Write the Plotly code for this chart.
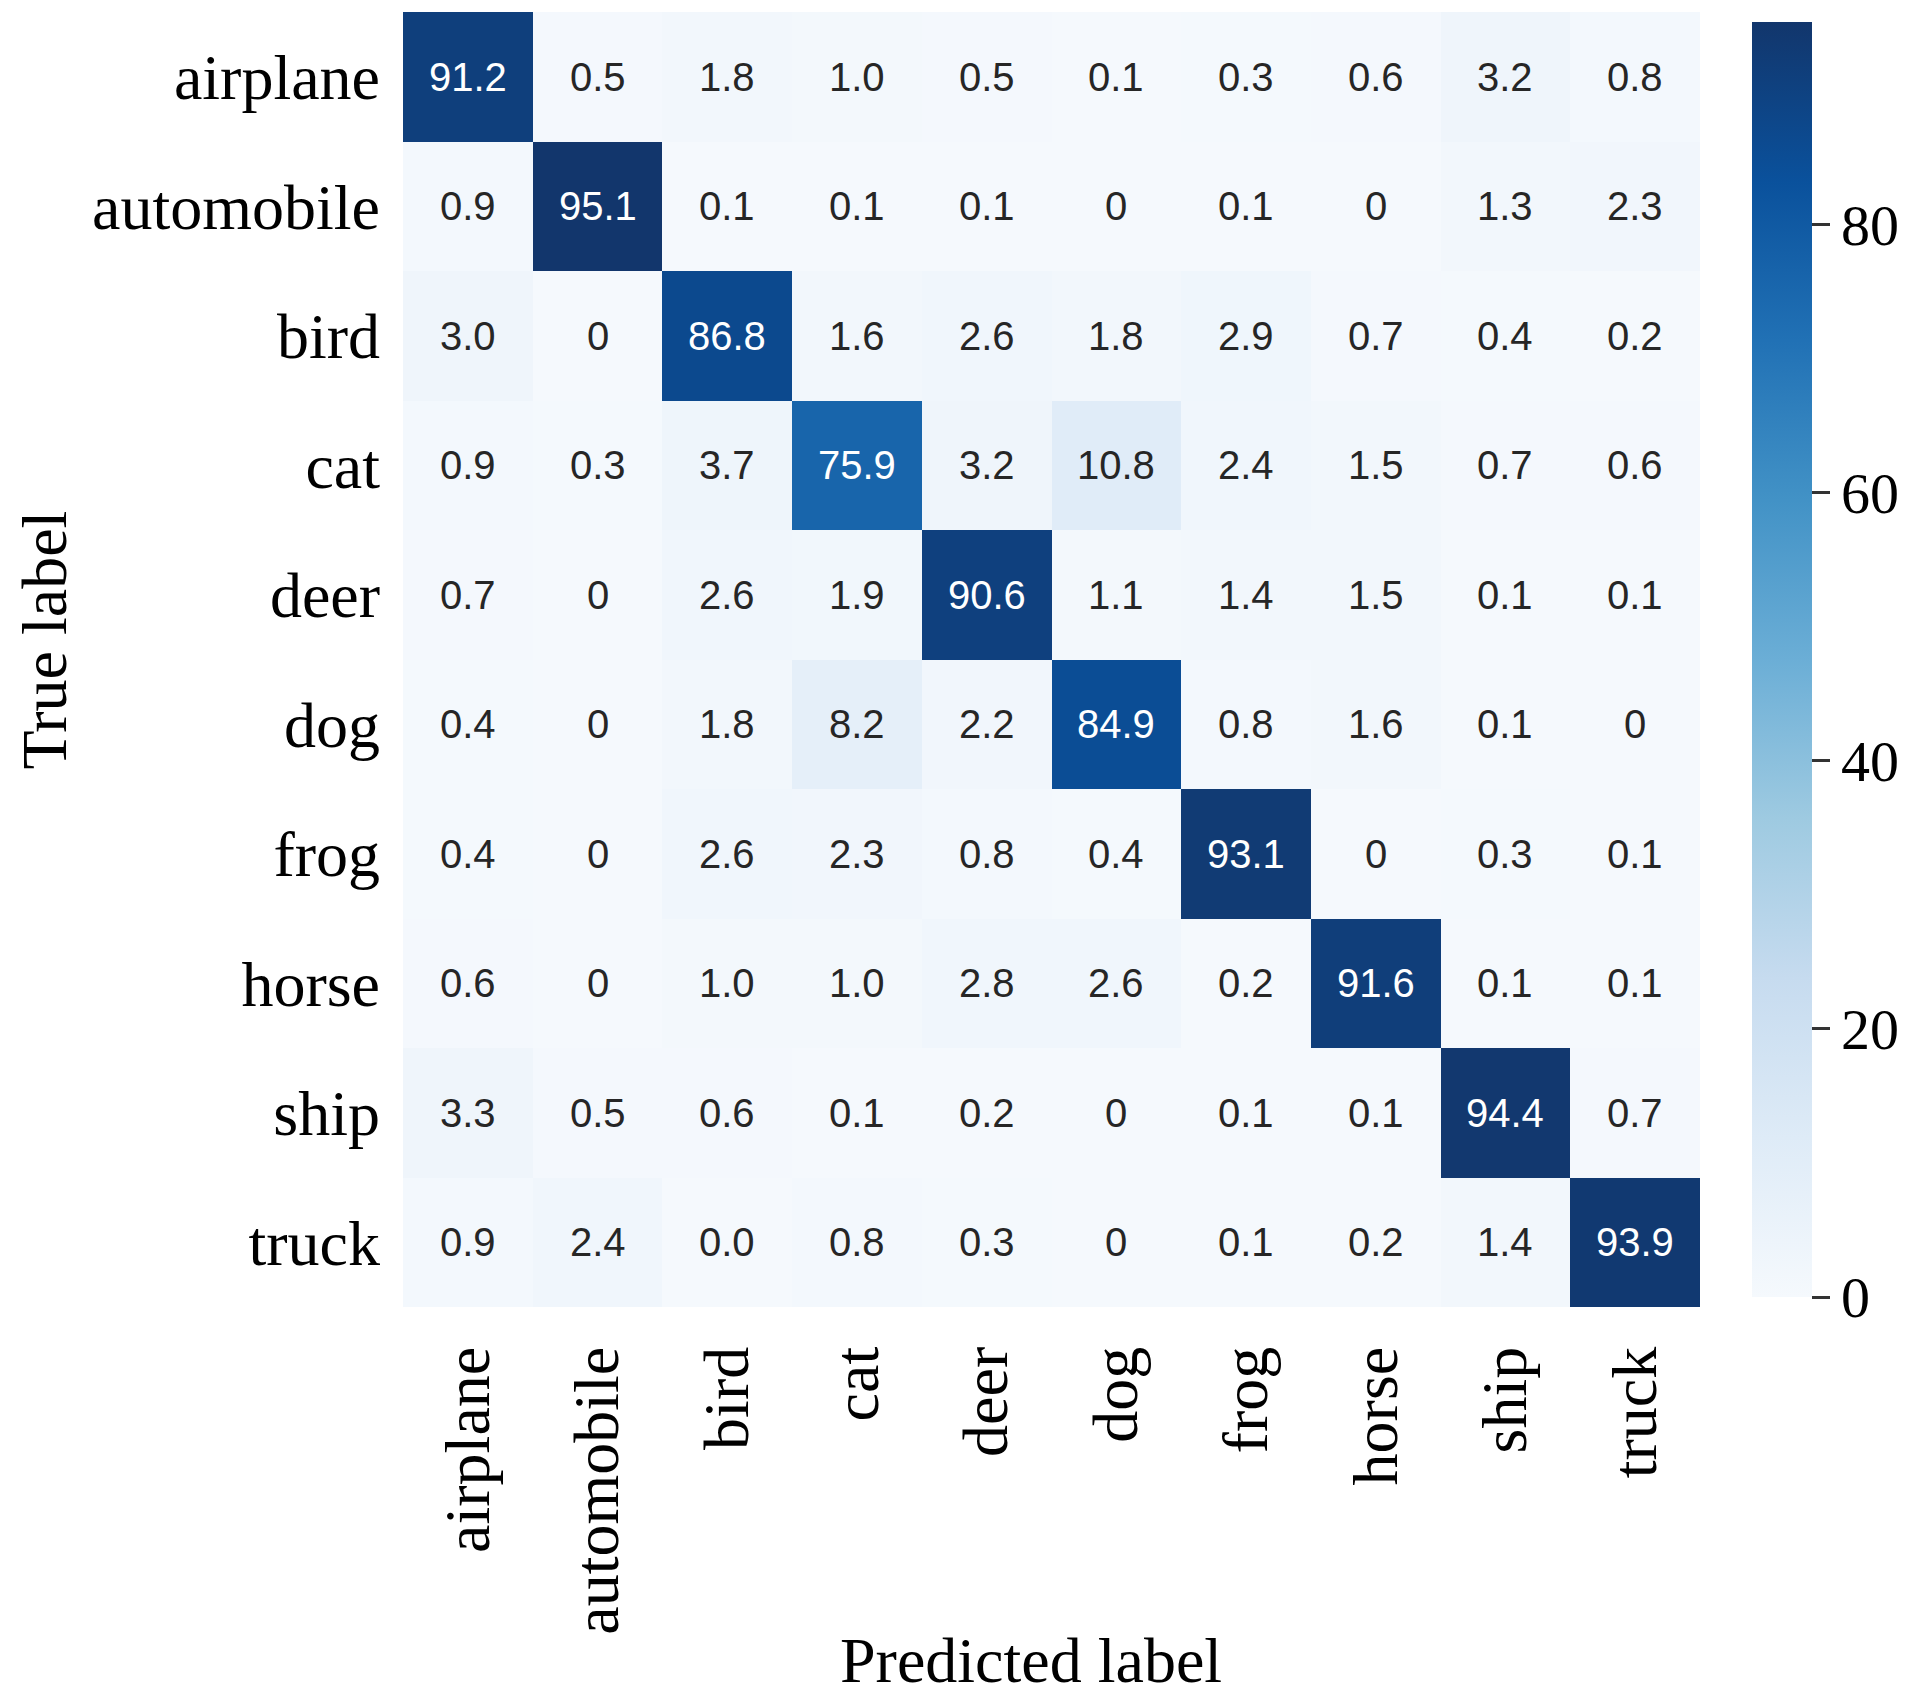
import plotly.graph_objects as go

classes = ["airplane", "automobile", "bird", "cat", "deer", "dog", "frog", "horse", "ship", "truck"]

# rows = true label, columns = predicted label (percent), as printed in the cells
cell_text = [
    ["91.2", "0.5", "1.8", "1.0", "0.5", "0.1", "0.3", "0.6", "3.2", "0.8"],
    ["0.9", "95.1", "0.1", "0.1", "0.1", "0", "0.1", "0", "1.3", "2.3"],
    ["3.0", "0", "86.8", "1.6", "2.6", "1.8", "2.9", "0.7", "0.4", "0.2"],
    ["0.9", "0.3", "3.7", "75.9", "3.2", "10.8", "2.4", "1.5", "0.7", "0.6"],
    ["0.7", "0", "2.6", "1.9", "90.6", "1.1", "1.4", "1.5", "0.1", "0.1"],
    ["0.4", "0", "1.8", "8.2", "2.2", "84.9", "0.8", "1.6", "0.1", "0"],
    ["0.4", "0", "2.6", "2.3", "0.8", "0.4", "93.1", "0", "0.3", "0.1"],
    ["0.6", "0", "1.0", "1.0", "2.8", "2.6", "0.2", "91.6", "0.1", "0.1"],
    ["3.3", "0.5", "0.6", "0.1", "0.2", "0", "0.1", "0.1", "94.4", "0.7"],
    ["0.9", "2.4", "0.0", "0.8", "0.3", "0", "0.1", "0.2", "1.4", "93.9"],
]
values = [[float(s) for s in row] for row in cell_text]

colorbar_ticks = [0, 20, 40, 60, 80]

# page body has an 8px default margin, so the figure is drawn 8px smaller
W, H = 1905, 1693
L, R, T, B = 395, 1705, 4, 1299
pw, ph = R - L, B - T

serif = "Liberation Serif, Times New Roman, serif"
sans = "Liberation Sans, Arial, sans-serif"

blues = [
    [0.0, "rgb(245,249,253)"], [0.125, "rgb(222,235,247)"], [0.25, "rgb(198,219,239)"],
    [0.375, "rgb(158,202,225)"], [0.5, "rgb(107,174,214)"], [0.625, "rgb(66,146,198)"],
    [0.75, "rgb(33,113,181)"], [0.875, "rgb(10,81,156)"], [1.0, "rgb(18,54,108)"],
]

zmax = max(max(r) for r in values)

fig = go.Figure(go.Heatmap(
    z=values, x=classes, y=classes,
    colorscale=blues, zmin=0, zmax=zmax,
    xgap=0, ygap=0,
    hoverongaps=False,
    colorbar=dict(
        x=(1747 - L) / pw, xanchor="left", xref="paper",
        y=0.5, yanchor="middle", len=1.0, lenmode="fraction",
        thickness=60, thicknessmode="pixels",
        outlinewidth=0,
        tickvals=colorbar_ticks, ticktext=[str(v) for v in colorbar_ticks],
        ticks="outside", ticklen=18, tickwidth=3, tickcolor="#333333",
        tickfont=dict(family=serif, size=58, color="black"),
    ),
))

annotations = []
for i, row in enumerate(values):
    for j, v in enumerate(row):
        annotations.append(dict(
            x=classes[j], y=classes[i], xref="x", yref="y",
            text=cell_text[i][j], showarrow=False,
            font=dict(family=sans, size=40, color="white" if v > 50 else "#262626"),
        ))

annotations.append(dict(
    x=(32 - L) / pw, y=(B - 632) / ph, xref="paper", yref="paper",
    text="True label", textangle=-90, showarrow=False,
    xanchor="center", yanchor="middle",
    font=dict(family=serif, size=64, color="black"),
))
annotations.append(dict(
    x=(1029 - L) / pw, y=(B - 1652) / ph, xref="paper", yref="paper",
    text="Predicted label", showarrow=False,
    xanchor="center", yanchor="middle",
    font=dict(family=serif, size=64, color="black"),
))

fig.update_layout(
    width=W, height=H,
    margin=dict(l=L, r=W - R, t=T, b=H - B, pad=0),
    paper_bgcolor="white", plot_bgcolor="white",
    annotations=annotations,
    xaxis=dict(
        tickangle=-90, ticks="", showgrid=False, zeroline=False, showline=False,
        tickfont=dict(family=serif, size=64, color="black"),
        ticklabelstandoff=26,
    ),
    yaxis=dict(
        autorange="reversed", ticks="", showgrid=False, zeroline=False, showline=False,
        tickfont=dict(family=serif, size=64, color="black"),
        ticklabelstandoff=22,
    ),
)

fig.write_html("out.html")
